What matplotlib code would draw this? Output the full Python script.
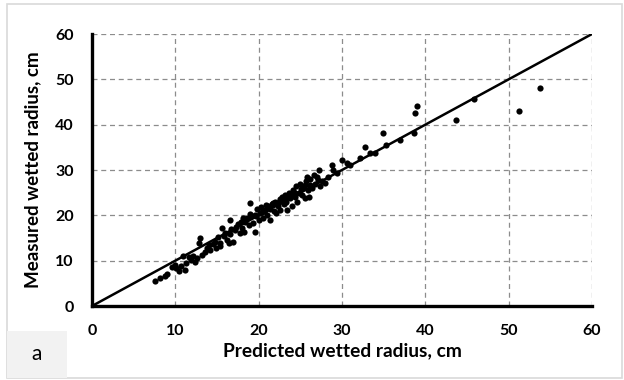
import matplotlib
matplotlib.use("Agg")
import matplotlib.pyplot as plt
from matplotlib.patches import Rectangle

# Predicted vs measured wetted radius (cm)
predicted = [
    7.6, 8.2, 8.7, 9.0, 9.6, 9.9, 10.1, 10.4, 10.7, 10.9, 11.2, 11.3, 11.6, 11.9,
    12.1, 12.3, 12.6, 12.8, 13.0, 13.2, 13.5, 13.8, 14.0, 14.2, 14.5, 14.7, 14.9,
    15.1, 15.3, 15.6, 15.8, 16.0, 16.2, 16.4, 16.6, 16.7, 16.9, 17.1, 17.3, 17.5,
    17.7, 18.0, 18.2, 18.4, 18.6, 18.8, 19.0, 19.1, 19.3, 19.5, 19.6, 19.8, 20.0,
    20.1, 20.3, 20.5, 20.6, 20.8, 21.0, 21.1, 21.3, 21.4, 21.6, 21.8, 22.0, 22.1,
    22.3, 22.5, 22.6, 22.8, 23.0, 23.1, 23.3, 23.4, 23.6, 23.8, 24.0, 24.1, 24.3,
    24.5, 24.6, 24.8, 25.0, 25.2, 25.3, 25.5, 25.7, 25.8, 25.9, 26.0, 26.2, 26.4,
    26.6, 26.8, 27.0, 27.2, 27.4, 27.6, 28.0, 28.3, 28.8, 28.9, 29.4, 30.0, 30.6,
    31.0, 32.2, 32.8, 33.4, 34.0, 34.9, 35.3, 37.0, 38.6, 38.8, 39.0, 43.7, 45.8,
    51.2, 53.8,
    17.9, 18.9, 20.4, 21.7, 22.4, 23.7, 24.4, 25.1, 26.1, 21.2, 19.7, 20.9, 22.9,
    24.2, 15.4, 16.5, 18.1, 23.2, 25.6, 27.1,
]
measured = [
    5.6, 6.1, 6.6, 7.0, 8.5, 9.0, 8.3, 7.8, 8.9, 11.0, 7.9, 9.5, 10.9, 10.2,
    11.0, 9.8, 10.5, 13.9, 15.0, 11.3, 12.0, 12.8, 13.5, 12.4, 13.6, 14.2, 12.9,
    15.2, 14.0, 17.2, 15.5, 16.0, 14.5, 13.8, 19.0, 17.0, 14.2, 16.8, 17.5, 18.0,
    16.0, 17.2, 16.3, 18.5, 19.5, 17.8, 22.7, 19.8, 18.2, 20.1, 16.3, 21.5, 19.0,
    20.5, 21.8, 19.5, 20.9, 21.2, 20.0, 22.0, 21.5, 19.0, 22.5, 21.0, 23.0, 20.5,
    22.0, 23.5, 21.2, 24.0, 22.5, 24.5, 23.0, 21.2, 25.0, 23.8, 22.0, 25.5, 24.0,
    26.5, 23.0, 25.0, 27.0, 24.5, 26.0, 23.8, 27.5, 28.5, 25.5, 24.0, 28.0, 26.0,
    29.0, 27.0, 28.5, 30.0, 26.5, 27.5, 27.2, 28.5, 31.1, 30.0, 29.3, 32.2, 31.5,
    31.0, 32.6, 35.1, 33.7, 33.7, 38.1, 35.5, 36.6, 38.1, 42.5, 44.1, 41.0, 45.6,
    43.0, 48.1,
    18.6, 20.4, 20.8, 22.8, 22.9, 24.2, 24.9, 25.8, 26.7, 21.7, 19.9, 22.3, 23.6,
    24.8, 13.2, 15.8, 19.4, 24.1, 26.6, 27.9,
]

x_ticks = [0, 10, 20, 30, 40, 50, 60]
y_ticks = [0, 10, 20, 30, 40, 50, 60]

W, H = 624, 380
fig = plt.figure(figsize=(W / 100, H / 100), dpi=100)
ax = fig.add_axes([92 / W, 1 - 306 / H, 500 / W, 272 / H])

# 1:1 line
ax.plot([0, 60], [0, 60], color="black", lw=1.8, zorder=3, solid_capstyle="butt")
ax.scatter(predicted, measured, s=20, color="black", zorder=4, linewidths=0)

ax.set_xlim(0, 60)
ax.set_ylim(0, 60)
ax.set_xticks(x_ticks)
ax.set_yticks(y_ticks)

bold = dict(family="Lato", weight="bold")
ax.set_xticklabels([str(t) for t in x_ticks], fontsize=11.5, **bold)
ax.set_yticklabels([str(t) for t in y_ticks], fontsize=11.5, **bold)
ax.tick_params(axis="x", length=0, pad=13)
ax.tick_params(axis="y", length=0, pad=13)

ax.grid(True, color="#8c8c8c", linestyle=(0, (4, 3)), linewidth=0.9)
ax.set_axisbelow(True)
for side in ("top", "right"):
    ax.spines[side].set_visible(False)
for side in ("left", "bottom"):
    ax.spines[side].set_linewidth(2.4)
    ax.spines[side].set_color("black")
    ax.spines[side].set_zorder(5)

ax.set_xlabel("Predicted wetted radius, cm", fontsize=13.8, labelpad=3, **bold)
ax.set_ylabel("Measured wetted radius, cm", fontsize=13.5, labelpad=10, **bold)

# Figure frame and panel tag
fig.patches.append(Rectangle((7 / W, 2 / H), 615 / W, 374 / H, transform=fig.transFigure,
                             fill=False, edgecolor="#d9d9d9", lw=1.2))
fig.patches.append(Rectangle((7 / W, 2 / H), 60 / W, 47 / H, transform=fig.transFigure,
                             facecolor="#f2f2f2", edgecolor="none"))
fig.text(37 / W, 1 - 354 / H, "a", fontsize=15, family="Lato", ha="center", va="center")

fig.savefig("out.png", dpi=100)
